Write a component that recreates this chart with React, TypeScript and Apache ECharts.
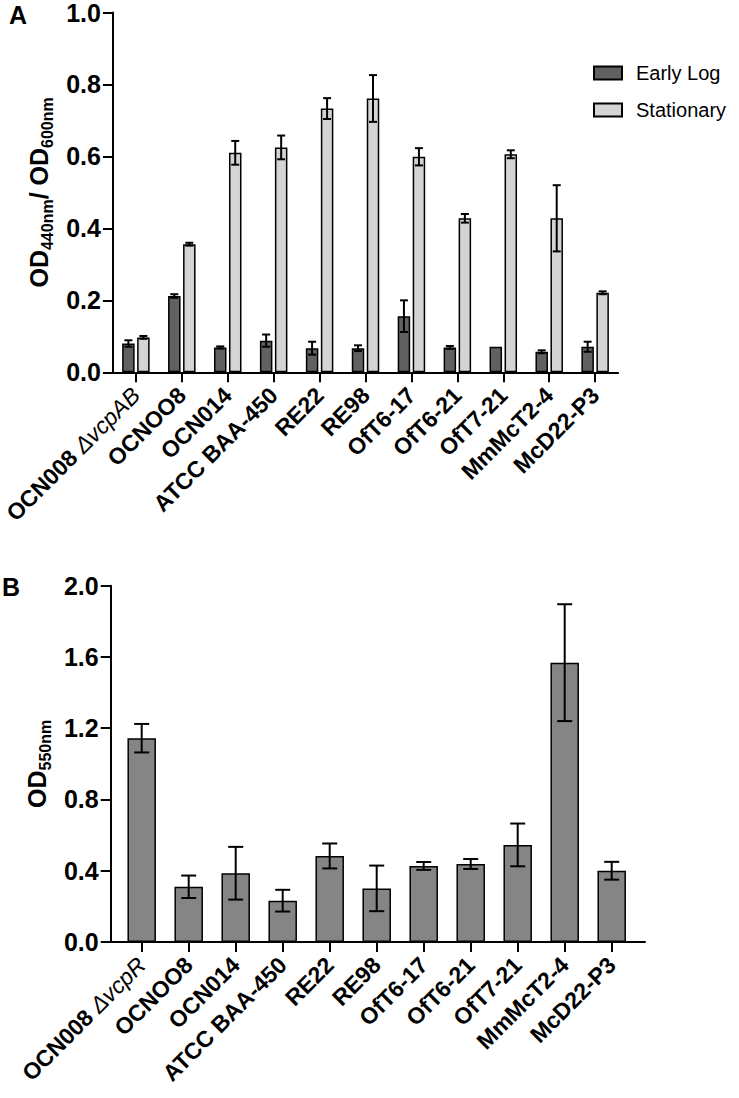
import React, { useEffect, useRef } from "react";
import * as echarts from "echarts";

const categoriesA = ["OCN008 ΔvcpAB", "OCNOO8", "OCN014", "ATCC BAA-450", "RE22", "RE98", "OfT6-17", "OfT6-21", "OfT7-21", "MmMcT2-4", "McD22-P3"];
const categoriesB = ["OCN008 ΔvcpR", "OCNOO8", "OCN014", "ATCC BAA-450", "RE22", "RE98", "OfT6-17", "OfT6-21", "OfT7-21", "MmMcT2-4", "McD22-P3"];

const earlyLog = [0.080, 0.212, 0.069, 0.088, 0.067, 0.067, 0.156, 0.069, 0.071, 0.057, 0.071];
const earlyLogErr = [0.009, 0.005, 0.003, 0.017, 0.018, 0.008, 0.044, 0.004, 0, 0.004, 0.014];
const stationary = [0.097, 0.356, 0.610, 0.625, 0.733, 0.761, 0.599, 0.428, 0.606, 0.428, 0.221];
const stationaryErr = [0.004, 0.004, 0.033, 0.033, 0.029, 0.065, 0.024, 0.012, 0.011, 0.092, 0.004];
const biofilm = [1.144, 0.31, 0.386, 0.232, 0.483, 0.301, 0.427, 0.438, 0.545, 1.568, 0.40];
const biofilmErr = [0.08, 0.063, 0.148, 0.061, 0.07, 0.128, 0.022, 0.028, 0.12, 0.328, 0.05];

const ticksA = [0, 0.2, 0.4, 0.6, 0.8, 1.0];
const ticksB = [0, 0.4, 0.8, 1.2, 1.6, 2.0];

const FONT = "'Liberation Sans', Arial, Helvetica, sans-serif";

const labelFormatter = (v: string) => {
  const k = v.indexOf(" Δ");
  if (k >= 0) return `{b|${v.slice(0, k)} }{i|${v.slice(k + 1)}}`;
  return `{b|${v}}`;
};

const xLabelRich = {
  b: { fontFamily: FONT, fontWeight: "bold", fontSize: 23, color: "#000" },
  i: { fontFamily: FONT, fontStyle: "italic", fontWeight: "normal", fontSize: 23, color: "#000" },
};

const nameRich = {
  m: { fontFamily: FONT, fontWeight: "bold", fontSize: 25, color: "#000", lineHeight: 32, verticalAlign: "middle" },
  s: { fontFamily: FONT, fontWeight: "bold", fontSize: 16, color: "#000", lineHeight: 16, verticalAlign: "bottom" },
};

const makeErr = (offset: number, cap: number) => (params: any, api: any) => {
  const i = api.value(0);
  const m = api.value(1);
  const e = api.value(2);
  if (!e) return { type: "group", children: [] };
  const hi = api.coord([i, m + e]);
  const lo = api.coord([i, m - e]);
  const x = hi[0] + offset;
  const st = { stroke: "#000", lineWidth: 2 };
  return {
    type: "group",
    children: [
      { type: "line", shape: { x1: x, y1: hi[1], x2: x, y2: lo[1] }, style: st },
      { type: "line", shape: { x1: x - cap, y1: hi[1], x2: x + cap, y2: hi[1] }, style: st },
      { type: "line", shape: { x1: x - cap, y1: lo[1], x2: x + cap, y2: lo[1] }, style: st },
    ],
  };
};

export default function App() {
  const ref = useRef<HTMLDivElement>(null);
  useEffect(() => {
    if (!ref.current) return;
    const chart = echarts.init(ref.current, null, { renderer: "svg" });
    const axisLine = { show: true, lineStyle: { color: "#000", width: 2 } };
    const axisTick = { show: true, length: 10, lineStyle: { color: "#000", width: 2 } };
    const yLabel = {
      fontFamily: FONT, fontWeight: "bold", fontSize: 25, color: "#000", margin: 12,
      formatter: (v: number) => v.toFixed(1),
    };
    const option: any = {
      animation: false,
      backgroundColor: "#fff",
      grid: [
        { left: 111.3, top: 12.3, width: 506.8, height: 360 },
        { left: 118.2, top: 585.7, width: 517, height: 356.3 },
        { left: 110.7, top: 585.7, width: 534.3, height: 356.3 },
      ],
      legend: {
        data: ["Early Log", "Stationary"],
        orient: "vertical",
        left: 588,
        top: 57,
        icon: "rect",
        itemWidth: 28,
        itemHeight: 13,
        itemGap: 15,
        textStyle: { fontFamily: FONT, fontSize: 20, color: "#000", lineHeight: 22, padding: [0, 0, 0, 9] },
      },
      xAxis: [
        {
          type: "category", gridIndex: 0, data: categoriesA,
          axisLine, axisTick: { ...axisTick, alignWithLabel: true },
          axisLabel: { interval: 0, rotate: 45, margin: 19, formatter: labelFormatter, rich: xLabelRich },
        },
        {
          type: "category", gridIndex: 1, data: categoriesB,
          axisLine: { show: false }, axisTick: { ...axisTick, alignWithLabel: true },
          axisLabel: { interval: 0, rotate: 45, margin: 19, formatter: labelFormatter, rich: xLabelRich },
        },
        {
          type: "value", gridIndex: 2, min: 0, max: 1,
          axisLine, axisTick: { show: false }, axisLabel: { show: false }, splitLine: { show: false },
        },
      ],
      yAxis: [
        {
          type: "value", gridIndex: 0, min: ticksA[0], max: ticksA[ticksA.length - 1], interval: 0.2,
          axisLine, axisTick, axisLabel: yLabel, splitLine: { show: false },
          name: "{m|OD}{s|440nm}{m|/ OD}{s|600nm}", nameLocation: "middle", nameRotate: 90, nameGap: 56,
          nameTextStyle: { rich: nameRich },
        },
        {
          type: "value", gridIndex: 1, min: ticksB[0], max: ticksB[ticksB.length - 1], interval: 0.4,
          show: false,
        },
        {
          type: "value", gridIndex: 2, min: ticksB[0], max: ticksB[ticksB.length - 1], interval: 0.4,
          axisLine, axisTick, axisLabel: yLabel, splitLine: { show: false },
          name: "{m|OD}{s|550nm}", nameLocation: "middle", nameRotate: 90, nameGap: 56,
          nameTextStyle: { rich: nameRich },
        },
      ],
      series: [
        {
          name: "Early Log", type: "bar", xAxisIndex: 0, yAxisIndex: 0, data: earlyLog,
          barWidth: 12.5, barGap: "20%",
          itemStyle: { color: "#616161", borderColor: "#000", borderWidth: 1.5 },
        },
        {
          name: "Stationary", type: "bar", xAxisIndex: 0, yAxisIndex: 0, data: stationary,
          barWidth: 12.5, barGap: "20%",
          itemStyle: { color: "#d4d4d4", borderColor: "#000", borderWidth: 1.5 },
        },
        {
          type: "custom", xAxisIndex: 0, yAxisIndex: 0, z: 5,
          data: earlyLog.map((v, i) => [i, v, earlyLogErr[i]]),
          renderItem: makeErr(-7.5, 4),
        },
        {
          type: "custom", xAxisIndex: 0, yAxisIndex: 0, z: 5,
          data: stationary.map((v, i) => [i, v, stationaryErr[i]]),
          renderItem: makeErr(7.5, 4),
        },
        {
          name: "Biofilm", type: "bar", xAxisIndex: 1, yAxisIndex: 1, data: biofilm,
          barWidth: 28.5,
          itemStyle: { color: "#858585", borderColor: "#000", borderWidth: 1.5 },
        },
        {
          type: "custom", xAxisIndex: 1, yAxisIndex: 1, z: 5,
          data: biofilm.map((v, i) => [i, v, biofilmErr[i]]),
          renderItem: makeErr(0, 7.5),
        },
      ],
      graphic: [
        { type: "text", left: 9, top: 2, style: { text: "A", fontFamily: FONT, fontWeight: "bold", fontSize: 25, fill: "#000" } },
        { type: "text", left: 2, top: 574, style: { text: "B", fontFamily: FONT, fontWeight: "bold", fontSize: 25, fill: "#000" } },
      ],
    };
    chart.setOption(option);
    return () => chart.dispose();
  }, []);
  return (
    <div
      ref={ref}
      style={{ position: "absolute", left: 0, top: 0, width: 739, height: 1098, background: "#fff" }}
    />
  );
}
